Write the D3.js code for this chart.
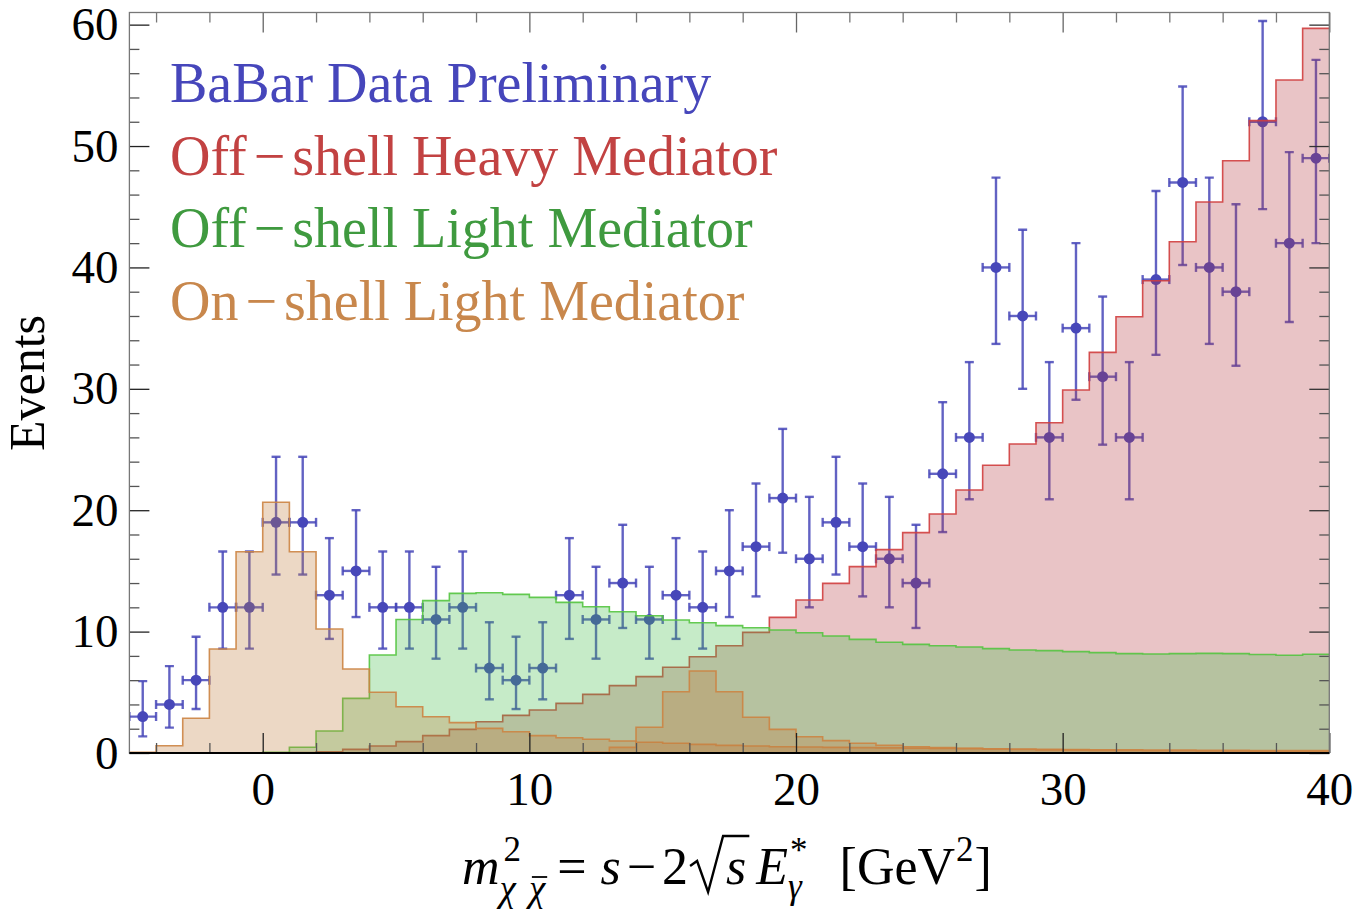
<!DOCTYPE html>
<html>
<head>
<meta charset="utf-8">
<script src="https://cdn.jsdelivr.net/npm/d3@7"></script>
<style>
  body { margin: 0; background: #fff; }
  text { font-family: "Liberation Serif", "Times New Roman", serif; }
</style>
</head>
<body>
<svg id="chart"></svg>
<script>
// BaBar data: counts per 1 GeV^2 bin, bins start at -5
var counts = [3, 4, 6, 12, 12, 19, 19, 13, 15, 12, 12, 11, 12, 7, 6, 7, 13, 11, 14, 11, 13, 12, 15,
  17, 21, 16, 19, 17, 16, 14, 23, 26, 40, 36, 26, 35, 31, 26, 39, 47, 40, 38, 52, 42, 49];
var errLo = [1.37, 2.09, 3.62, 8.6, 8.6, 14.7, 14.7, 9.4, 11.2, 8.6, 8.6, 7.77, 8.6, 4.42, 3.62, 4.42,
  9.4, 7.77, 10.3, 7.77, 9.4, 8.6, 11.2, 12.9, 16.5, 12.0, 14.7, 12.9, 12.0, 10.3, 18.2, 20.9, 33.7,
  30.0, 20.9, 29.1, 25.4, 20.9, 32.8, 40.2, 33.7, 31.9, 44.8, 35.5, 42.0];
var errHi = [5.92, 7.16, 9.58, 16.6, 16.6, 24.4, 24.4, 17.7, 20.0, 16.6, 16.6, 15.34, 16.6, 10.77, 9.58,
  10.77, 17.7, 15.34, 18.8, 15.34, 17.7, 16.6, 20.0, 22.2, 26.7, 21.1, 24.4, 22.2, 21.1, 18.8, 28.9,
  32.2, 47.4, 43.1, 32.2, 42.0, 37.6, 32.2, 46.3, 54.9, 47.4, 45.2, 60.3, 49.5, 57.1];

// model histograms, same bins
var heavyOff = [0, 0, 0, 0, 0, 0, 0.03, 0.1, 0.3, 0.58, 0.94, 1.43, 1.95, 2.58, 3.1, 3.54, 4.09, 4.83,
  5.55, 6.29, 7.06, 7.93, 8.84, 9.94, 11.17, 12.6, 13.97, 15.35, 16.75, 18.15, 19.69, 21.66, 23.7,
  25.45, 27.21, 29.9, 33.0, 35.94, 38.9, 42.12, 45.39, 48.79, 52.09, 55.44, 59.69];
var lightOff = [0, 0, 0, 0, 0, 0.05, 0.47, 1.81, 4.5, 8.07, 11.0, 12.55, 13.15, 13.2, 13.07, 12.82,
  12.41, 12.05, 11.64, 11.31, 10.95, 10.73, 10.49, 10.32, 10.13, 9.91, 9.64, 9.36, 9.12, 8.95, 8.84,
  8.73, 8.6, 8.49, 8.43, 8.35, 8.27, 8.19, 8.16, 8.19, 8.21, 8.19, 8.11, 8.05, 8.13];
var onShell0 = [0.05, 0.6, 2.86, 8.57, 16.58, 20.65, 16.58, 10.21, 6.92, 5.0, 3.81, 2.99, 2.5, 2.03,
  1.75, 1.43, 1.26, 1.13, 0.99, 0.88, 0.8, 0.71, 0.63, 0.58, 0.52, 0.5, 0.46, 0.44, 0.42, 0.4, 0.38,
  0.36, 0.34, 0.32, 0.3, 0.28, 0.27, 0.26, 0.25, 0.24, 0.23, 0.22, 0.21, 0.2, 0.2];
var onShell16 = [0, 0, 0, 0, 0, 0, 0, 0, 0, 0, 0, 0, 0, 0, 0, 0, 0, 0.05, 0.46, 2.12, 5.05, 6.75, 5.05,
  2.94, 1.95, 1.34, 1.02, 0.8, 0.63, 0.52, 0.44, 0.39, 0.33, 0.29, 0.26, 0.24, 0.22, 0.2, 0.19, 0.18,
  0.17, 0.16, 0.15, 0.14, 0.13];

var xTicks = [0, 10, 20, 30, 40];
var xMinor = [-4, -2, 2, 4, 6, 8, 12, 14, 16, 18, 22, 24, 26, 28, 32, 34, 36, 38];
var yTicks = [0, 10, 20, 30, 40, 50, 60];
var yMinor = [2, 4, 6, 8, 12, 14, 16, 18, 22, 24, 26, 28, 32, 34, 36, 38, 42, 44, 46, 48, 52, 54, 56, 58];
// legend names split round the minus sign, which Mathematica sets with extra room
var legendNames = [["BaBar Data Preliminary"], ["Off", "shell Heavy Mediator"],
  ["Off", "shell Light Mediator"], ["On", "shell Light Mediator"]];

var binStart = -5, binWidth = 1;
var svgWidth = 1353, svgHeight = 912;
var pLeft = 129.4, pRight = 1329.3, pTop = 12.5, pBottom = 753;

var svg = d3.select('#chart')
    .attr('width', svgWidth)
    .attr('height', svgHeight);

var x = d3.scaleLinear().domain([-5, 40]).range([pLeft, pRight]);
var y = d3.scaleLinear().domain([0, 61]).range([pBottom, pTop]);

svg.append('clipPath').attr('id', 'plot')
  .append('rect')
    .attr('x', pLeft).attr('y', pTop)
    .attr('width', pRight - pLeft).attr('height', pBottom - pTop);

var plot = svg.append('g').attr('clip-path', 'url(#plot)');

// data points with error bars (drawn first, the histograms are translucent on top)
var blue = '#4747b9';
var pts = plot.append('g');
counts.forEach(function (c, i) {
  var xc = binStart + (i + 0.5) * binWidth;
  var g = pts.append('g').attr('stroke', blue).attr('stroke-width', 2.4).attr('stroke-opacity', 0.85);
  g.append('line')
    .attr('x1', x(xc)).attr('x2', x(xc))
    .attr('y1', y(errLo[i])).attr('y2', y(errHi[i]));
  [errLo[i], errHi[i]].forEach(function (e) {
    g.append('line')
      .attr('x1', x(xc) - 4.5).attr('x2', x(xc) + 4.5)
      .attr('y1', y(e)).attr('y2', y(e));
  });
  g.append('line')
    .attr('x1', x(xc - binWidth / 2)).attr('x2', x(xc + binWidth / 2))
    .attr('y1', y(c)).attr('y2', y(c));
  [xc - binWidth / 2, xc + binWidth / 2].forEach(function (e) {
    g.append('line')
      .attr('x1', x(e)).attr('x2', x(e))
      .attr('y1', y(c) - 4.5).attr('y2', y(c) + 4.5);
  });
  pts.append('circle')
    .attr('cx', x(xc)).attr('cy', y(c)).attr('r', 5.5)
    .attr('fill', blue);
});

// histograms
function steps(vals) {
  var p = vals.map(function (v, i) { return [binStart + i * binWidth, v]; });
  p.push([binStart + vals.length * binWidth, vals[vals.length - 1]]);
  return p;
}
var area = d3.area().curve(d3.curveStepAfter)
    .x(function (d) { return x(d[0]); })
    .y0(y(0))
    .y1(function (d) { return y(d[1]); });
var line = d3.line().curve(d3.curveStepAfter)
    .x(function (d) { return x(d[0]); })
    .y(function (d) { return y(d[1]); });

var hists = [
  { vals: heavyOff, fill: 'rgb(182,58,65)', edge: 'rgb(208,62,62)' },
  { vals: lightOff, fill: 'rgb(65,188,72)', edge: 'rgb(84,196,64)' },
  { vals: onShell0, fill: 'rgb(192,125,62)', edge: 'rgb(204,132,66)' },
  { vals: onShell16, fill: 'rgb(192,125,62)', edge: 'rgb(204,132,66)' }
];
hists.forEach(function (h) {
  plot.append('path')
    .attr('d', area(steps(h.vals)))
    .attr('fill', h.fill)
    .attr('fill-opacity', 0.3);
  plot.append('path')
    .attr('d', line(steps(h.vals)))
    .attr('fill', 'none')
    .attr('stroke', h.edge)
    .attr('stroke-width', 1.6)
    .attr('stroke-opacity', 0.9);
});

// frame ticks
function styleAxis(g, col) {
  g.select('.domain').remove();
  g.selectAll('.tick line').attr('stroke', col).attr('stroke-width', 1.3);
  g.selectAll('.tick text')
    .attr('font-family', 'Liberation Serif')
    .attr('font-size', 47)
    .attr('fill', '#000');
}
svg.append('g').attr('transform', 'translate(0,' + pBottom + ')')
    .call(d3.axisBottom(x).tickValues(xTicks).tickSize(-20).tickPadding(19).tickFormat(d3.format('d')))
    .call(styleAxis, '#222');
svg.append('g').attr('transform', 'translate(0,' + pBottom + ')')
    .call(d3.axisBottom(x).tickValues(xMinor).tickSize(-10).tickFormat(''))
    .call(styleAxis, '#555');
svg.append('g').attr('transform', 'translate(0,' + pTop + ')')
    .call(d3.axisTop(x).tickValues(xTicks).tickSize(-20).tickFormat(''))
    .call(styleAxis, '#666');
svg.append('g').attr('transform', 'translate(0,' + pTop + ')')
    .call(d3.axisTop(x).tickValues(xMinor).tickSize(-10).tickFormat(''))
    .call(styleAxis, '#777');
svg.append('g').attr('transform', 'translate(' + pLeft + ',0)')
    .call(d3.axisLeft(y).tickValues(yTicks).tickSize(-20).tickPadding(11).tickFormat(d3.format('d')))
    .call(styleAxis, '#222');
svg.append('g').attr('transform', 'translate(' + pLeft + ',0)')
    .call(d3.axisLeft(y).tickValues(yMinor).tickSize(-10).tickFormat(''))
    .call(styleAxis, '#555');
svg.append('g').attr('transform', 'translate(' + pRight + ',0)')
    .call(d3.axisRight(y).tickValues(yTicks).tickSize(-20).tickFormat(''))
    .call(styleAxis, '#333');
svg.append('g').attr('transform', 'translate(' + pRight + ',0)')
    .call(d3.axisRight(y).tickValues(yMinor).tickSize(-10).tickFormat(''))
    .call(styleAxis, '#555');

svg.append('rect')
    .attr('x', pLeft).attr('y', pTop)
    .attr('width', pRight - pLeft).attr('height', pBottom - pTop)
    .attr('fill', 'none').attr('stroke', '#777').attr('stroke-width', 1.3);
svg.append('line')
    .attr('x1', pLeft).attr('x2', pRight).attr('y1', pBottom).attr('y2', pBottom)
    .attr('stroke', '#000').attr('stroke-width', 2);

// legend
var legendColors = ['#4646bb', '#c24242', '#3f9a3f', '#c8874c'];
legendNames.forEach(function (parts, i) {
  var t = svg.append('text')
    .attr('x', 170).attr('y', 102 + i * 72.5)
    .attr('font-size', 56)
    .attr('fill', legendColors[i]);
  t.append('tspan').text(parts[0]);
  if (parts.length > 1) {
    t.append('tspan').attr('dx', 7).text('\u2212');
    t.append('tspan').attr('dx', 7).text(parts[1]);
  }
});

// y label
svg.append('text')
    .attr('transform', 'translate(44,383) rotate(-90)')
    .attr('text-anchor', 'middle')
    .attr('font-size', 50)
    .text('Events');

// x label: m^2_{chi chibar} = s - 2 sqrt(s) E*_gamma  [GeV^2]
var xl = svg.append('g');
var cx = 0;
function piece(str, o) {
  var t = xl.append('text')
      .attr('x', cx + (o.dx || 0)).attr('y', o.y || 0)
      .attr('font-size', o.size || 52)
      .attr('font-style', o.italic ? 'italic' : 'normal')
      .text(str);
  return t.node().getComputedTextLength();
}
cx += piece('m', { italic: true });
var wSup = piece('2', { size: 35, y: -23, dx: 4 });
var w1 = piece('\u03c7', { size: 37, y: 17, dx: 0, italic: true });
var chi2x = cx + w1 + 13;
var w2 = piece('\u03c7', { size: 37, y: 17, dx: w1 + 13, italic: true });
xl.append('line')
    .attr('x1', chi2x + 3).attr('x2', chi2x + w2 + 2)
    .attr('y1', -7).attr('y2', -7)
    .attr('stroke', '#000').attr('stroke-width', 1.8);
cx += Math.max(wSup + 4, w1 + 13 + w2) + 12;
cx += piece('=', {}) + 14;
cx += piece('s', { italic: true }) + 6;
cx += piece('\u2212', {}) + 6;
cx += piece('2', {}) + 2;
var r0 = cx;
cx += 36;
var ws = piece('s', { italic: true });
xl.append('path')
    .attr('d', 'M' + r0 + ',-18 L' + (r0 + 7) + ',-23 L' + (r0 + 18) + ',8 L' + (r0 + 33) + ',-48 L' + (cx + ws + 3) + ',-48')
    .attr('fill', 'none').attr('stroke', '#000').attr('stroke-width', 2.4);
cx += ws + 10;
var wE = piece('E', { italic: true });
cx += wE;
var wStar = piece('*', { size: 35, y: -22, dx: 2 });
var wG = piece('\u03b3', { size: 35, y: 14, dx: 0, italic: true });
cx += Math.max(wStar + 2, wG) + 32;
cx += piece('[GeV', {});
cx += piece('2', { size: 35, y: -23, dx: 1 }) + 2;
cx += piece(']', {});
var bb = xl.node().getBBox();
xl.attr('transform', 'translate(' + (727 - bb.x - bb.width / 2) + ',884)');
</script>
</body>
</html>
